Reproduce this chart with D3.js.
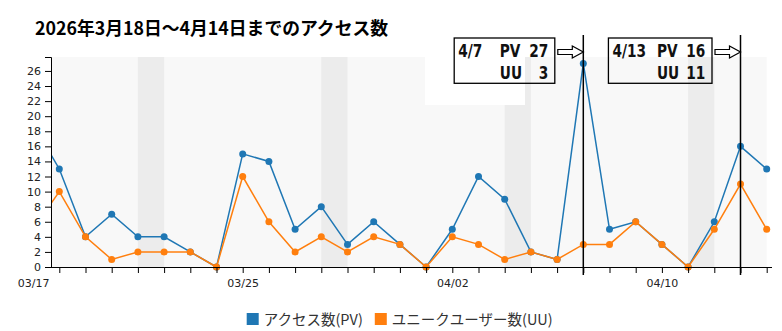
<!DOCTYPE html>
<html><head><meta charset="utf-8">
<script src="https://cdn.jsdelivr.net/npm/d3@7"></script>
<style>
html,body{margin:0;padding:0;background:#fff;}
svg{display:block;}
</style></head>
<body>
<svg id="chart" width="782" height="331"></svg>
<script>
// ---- data ----
const titleText = "2026年3月18日～4月14日までのアクセス数";
const dates = ["2026-03-17","2026-03-18","2026-03-19","2026-03-20","2026-03-21","2026-03-22","2026-03-23","2026-03-24","2026-03-25","2026-03-26","2026-03-27","2026-03-28","2026-03-29","2026-03-30","2026-03-31","2026-04-01","2026-04-02","2026-04-03","2026-04-04","2026-04-05","2026-04-06","2026-04-07","2026-04-08","2026-04-09","2026-04-10","2026-04-11","2026-04-12","2026-04-13","2026-04-14"];
const pv = [19,13,4,7,4,4,2,0,15,14,5,8,3,6,3,0,5,12,9,2,1,27,5,6,3,0,6,16,13];
const uu = [5,10,4,1,2,2,2,0,12,6,2,4,2,4,3,0,4,3,1,2,1,3,3,6,3,0,5,11,5];
const seriesNames = ["アクセス数(PV)","ユニークユーザー数(UU)"];
const seriesColors = ["#1f77b4","#ff7f0e"];
const yTicks = [0,2,4,6,8,10,12,14,16,18,20,22,24,26];
const xLabelDates = ["2026-03-17","2026-03-25","2026-04-02","2026-04-10"];
const annotationDates = ["2026-04-07","2026-04-13"];

// ---- layout ----
const parse = d3.timeParse("%Y-%m-%d");
const fmt = d3.timeFormat("%m/%d");
const days = dates.map(parse);
const svg = d3.select("#chart");
const plotL = 51, plotR = 772, plotT = 57, plotB = 267;

const x = d3.scaleTime().domain([days[0], days[days.length-1]]).range([33.1, 766.7]);
const y = d3.scaleLinear().domain([0, 27.85]).range([plotB, plotT]);

// title
const title = svg.append("text").attr("x", 35).attr("y", 35)
  .attr("font-family", "'Noto Sans CJK JP', sans-serif").attr("font-weight", "bold")
  .attr("font-size", 18).attr("fill", "#000").text(titleText);
title.attr("textLength", 353).attr("lengthAdjust", "spacingAndGlyphs");

// background
const bgRight = x(days[days.length-1]);
svg.append("rect").attr("x", plotL).attr("y", plotT).attr("width", bgRight - plotL).attr("height", plotB - plotT).attr("fill", "#f8f8f8");
// weekend bands (Sat -> Sun)
days.forEach(d => {
  if (d.getDay() === 6 && x(d) >= plotL) {
    const n = d3.timeDay.offset(d, 1);
    svg.append("rect").attr("x", x(d)).attr("y", plotT).attr("width", x(n) - x(d)).attr("height", plotB - plotT).attr("fill", "#ececec");
  }
});
// white patch
svg.append("rect").attr("x", 425).attr("y", plotT).attr("width", 100).attr("height", 48).attr("fill", "#fff");

// clip
svg.append("clipPath").attr("id", "clip").append("rect").attr("x", plotL).attr("y", 0).attr("width", plotR - plotL + 10).attr("height", 331);

const gData = svg.append("g").attr("clip-path", "url(#clip)");
[pv, uu].forEach((vals, si) => {
  const pts = days.map((d, i) => [d, vals[i]]);
  gData.append("path").datum(pts)
    .attr("fill", "none").attr("stroke", seriesColors[si]).attr("stroke-width", 1.5)
    .attr("d", d3.line().x(p => x(p[0])).y(p => y(p[1])));
  gData.selectAll(null).data(pts).enter().append("circle")
    .attr("cx", p => x(p[0])).attr("cy", p => y(p[1])).attr("r", 3.5).attr("fill", seriesColors[si]);
});

// y axis
const yAxis = svg.append("g").attr("transform", `translate(${plotL},0)`)
  .call(d3.axisLeft(y).tickValues(yTicks).tickSize(6).tickPadding(4));
yAxis.selectAll("text").attr("font-family", "'DejaVu Sans', Verdana, sans-serif").attr("font-size", 11).attr("fill", "#222");
yAxis.selectAll("path,line").attr("stroke", "#000");

// x axis
const labelSet = new Set(xLabelDates);
const xAxis = svg.append("g").attr("transform", `translate(0,${plotB})`)
  .call(d3.axisBottom(x).tickValues(days).tickSize(6).tickPadding(6).tickSizeOuter(0)
    .tickFormat(d => labelSet.has(d3.timeFormat("%Y-%m-%d")(d)) ? fmt(d) : ""));
xAxis.select(".domain").remove();
xAxis.selectAll(".tick").filter(d => x(d) < plotL).select("line").remove();
xAxis.selectAll("text").attr("font-family", "'DejaVu Sans', Verdana, sans-serif").attr("font-size", 11).attr("fill", "#222");
xAxis.selectAll("line").attr("stroke", "#000");
xAxis.append("line").attr("x1", plotL).attr("x2", plotR).attr("y1", 0.5).attr("y2", 0.5).attr("stroke", "#000");

// annotations
const annFont = "'DejaVu Sans', sans-serif";
const squeeze = 0.74;
annotationDates.forEach(ds => {
  const d = parse(ds);
  const i = dates.indexOf(ds);
  const xl = x(d);
  svg.append("line").attr("x1", xl).attr("x2", xl).attr("y1", 35).attr("y2", plotB + 8)
    .attr("stroke", "#000").attr("stroke-width", 1.5);
  const boxR = xl - 28.5, boxT = 38, boxB = 83.3;
  const g = svg.append("g");
  const addT = (txt, yy, anchor) => {
    const t = g.append("text").attr("y", yy).attr("text-anchor", anchor)
      .attr("font-family", annFont).attr("font-weight", "bold").attr("font-size", 18.5).attr("fill", "#111").text(txt);
    const w = t.node().getComputedTextLength() * squeeze;
    t.attr("textLength", w).attr("lengthAdjust", "spacingAndGlyphs");
    return [t, w];
  };
  const dateLabel = (d.getMonth() + 1) + "/" + d.getDate();
  const [t1, dw] = addT(dateLabel, 56.5, "start");
  const w = Math.max(100.6, 70 + dw);
  const boxL = boxR - w;
  t1.attr("x", boxL + 4);
  g.insert("rect", "text").attr("x", boxL).attr("y", boxT).attr("width", w).attr("height", boxB - boxT)
    .attr("fill", "none").attr("stroke", "#000").attr("stroke-width", 1.3);
  addT("PV", 56.5, "start")[0].attr("x", boxR - 55);
  addT(String(pv[i]), 56.5, "end")[0].attr("x", boxR - 6.6);
  addT("UU", 79, "start")[0].attr("x", boxR - 55);
  addT(String(uu[i]), 79, "end")[0].attr("x", boxR - 6.6);
  // hollow arrow
  const x0 = boxR + 3, x1 = xl, cy = 52;
  const p = `M${x0},${cy-2.5}L${x1-11},${cy-2.5}L${x1-11},${cy-6}L${x1},${cy}L${x1-11},${cy+6}L${x1-11},${cy+2.5}L${x0},${cy+2.5}Z`;
  svg.append("path").attr("d", p).attr("fill", "#fff").attr("stroke", "#000").attr("stroke-width", 1.2);
});

// legend
const lg = svg.append("g");
let lx = 246.7;
seriesNames.forEach((name, si) => {
  lg.append("rect").attr("x", lx).attr("y", 313).attr("width", 12).attr("height", 12).attr("fill", seriesColors[si]);
  const t = lg.append("text").attr("x", lx + 17).attr("y", 325)
    .attr("font-family", "'Noto Sans CJK JP', sans-serif").attr("font-size", 14.5).attr("fill", "#333").text(name);
  lx += 17 + t.node().getComputedTextLength() + 12;
});
</script>
</body></html>
